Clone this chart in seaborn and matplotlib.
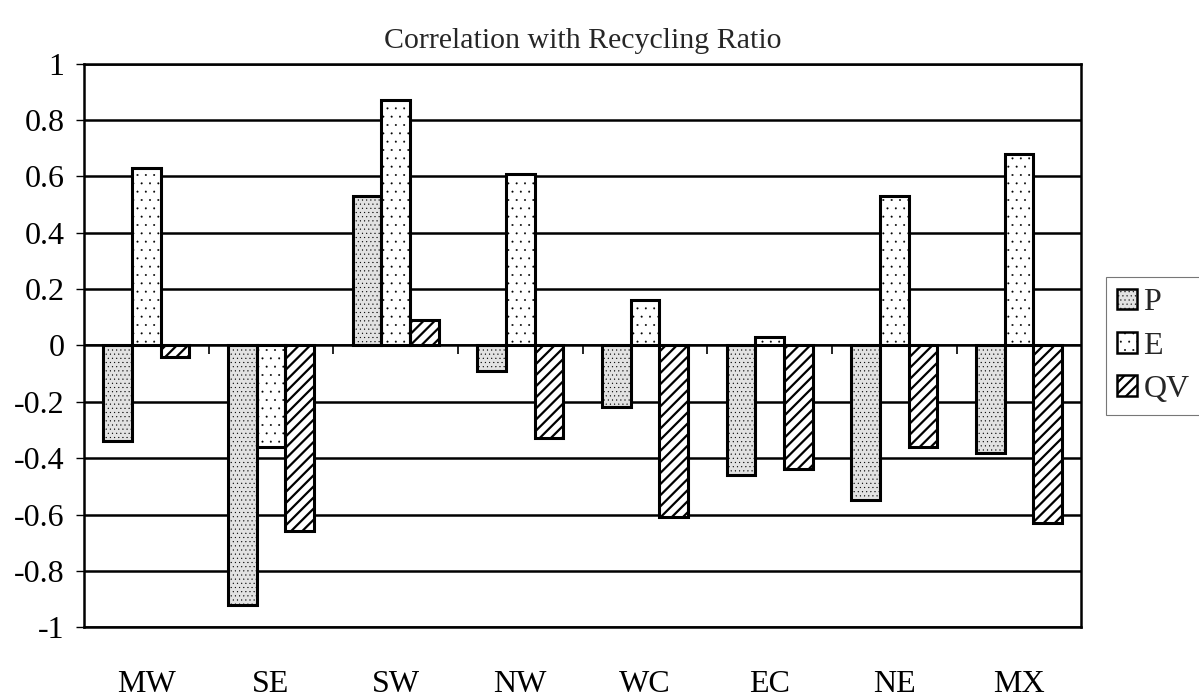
"""Correlação com a razão de reciclagem, por região (barras agrupadas)."""

import matplotlib.pyplot as plt
import pandas as pd
import seaborn as sns
from matplotlib.patches import Patch, Rectangle

# Dados
regioes = ["MW", "SE", "SW", "NW", "WC", "EC", "NE", "MX"]
serie_p = [-0.34, -0.92, 0.53, -0.09, -0.22, -0.46, -0.55, -0.38]
serie_e = [0.63, -0.36, 0.87, 0.61, 0.16, 0.03, 0.53, 0.68]
serie_qv = [-0.04, -0.66, 0.09, -0.33, -0.61, -0.44, -0.36, -0.63]
series = ["P", "E", "QV"]
ticks_y = [-1, -0.8, -0.6, -0.4, -0.2, 0, 0.2, 0.4, 0.6, 0.8, 1]

sns.set_theme(style="white")
plt.rcParams["font.family"] = ["Liberation Serif", "DejaVu Serif"]
plt.rcParams["hatch.linewidth"] = 1.4

# Padrões de preenchimento (imitando a impressão em preto e branco)
ESTILO = {
    "P": dict(fc="#e2e2e2", hatch="....", hlw=0.3),
    "E": dict(fc="white", hatch="..", hlw=0.2),
    "QV": dict(fc="white", hatch="///", hlw=1.6),
}


def aplicar_hatch_lw(p, lw):
    if hasattr(p, "set_hatch_linewidth"):
        p.set_hatch_linewidth(lw)


df = pd.DataFrame({
    "regiao": regioes * 3,
    "serie": ["P"] * 8 + ["E"] * 8 + ["QV"] * 8,
    "valor": serie_p + serie_e + serie_qv,
})

fig = plt.figure(figsize=(11.99, 7.0), dpi=100)
ax = fig.add_axes([0.070, 0.104, 0.832, 0.805])

sns.barplot(data=df, x="regiao", y="valor", hue="serie", order=regioes,
            hue_order=series, width=0.69, legend=False, ax=ax,
            edgecolor="black", linewidth=1.8)

for cont, nome in zip(ax.containers, series):
    est = ESTILO[nome]
    for p in cont:
        p.set_facecolor(est["fc"])
        p.set_hatch(est["hatch"])
        aplicar_hatch_lw(p, est["hlw"])
        p.set_zorder(3)
        # contorno preto mais grosso por cima
        ax.add_patch(Rectangle(p.get_xy(), p.get_width(), p.get_height(),
                               fill=False, ec="black", lw=2.2, zorder=4))

ax.set_ylim(-1, 1)
ax.set_xlim(-0.5, len(regioes) - 0.5)
ax.set_yticks(ticks_y)
ax.set_yticklabels([f"{v:g}" for v in ticks_y])
ax.yaxis.grid(True, color="black", lw=1.8)
ax.xaxis.grid(False)
ax.set_axisbelow(True)
ax.axhline(0, color="black", lw=1.2, zorder=2)

# marcas de categoria sobre a linha do zero
fronteiras = [i + 0.5 for i in range(len(regioes) - 1)]
ax.vlines(fronteiras, 0, -0.032, color="black", lw=1.2, zorder=2)

for s in ax.spines.values():
    s.set_color("black")
    s.set_linewidth(1.8)

ax.tick_params(axis="y", left=True, length=6, width=1, pad=8,
               labelsize=23, colors="black")
ax.tick_params(axis="x", bottom=False, pad=25, labelsize=23, colors="black")
ax.set_xlabel("")
ax.set_ylabel("")
ax.set_title("Correlation with Recycling Ratio", fontsize=21.5, pad=11)

alcas = [Patch(facecolor=ESTILO[n]["fc"], edgecolor="black",
               hatch=ESTILO[n]["hatch"], lw=1.8) for n in series]
leg = fig.legend(alcas, series, loc="upper left",
                 bbox_to_anchor=(1106 / 1199, 1 - 277 / 700),
                 fontsize=23, frameon=True, fancybox=False,
                 handlelength=0.62, handleheight=0.62, handletextpad=0.2,
                 labelspacing=0.45, borderpad=0.35, borderaxespad=0)
for h, n in zip(leg.legend_handles, series):
    aplicar_hatch_lw(h, ESTILO[n]["hlw"])
leg.get_frame().set_edgecolor("#555555")
leg.get_frame().set_linewidth(0.8)

fig.savefig("out.png", dpi=100)
plt.close(fig)
